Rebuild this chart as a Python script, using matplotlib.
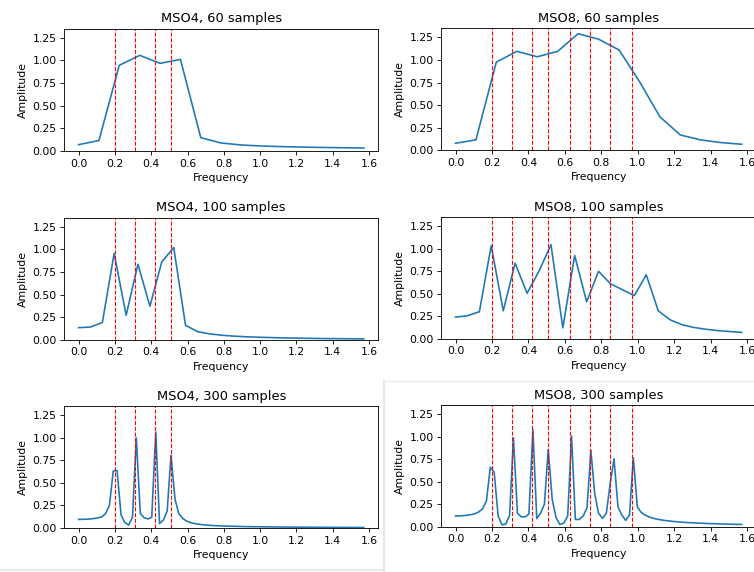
import matplotlib.pyplot as plt
from matplotlib.lines import Line2D

# frequency grids (N/4 points between 0 and pi/2)
freq15 = [0.000, 0.112, 0.224, 0.337, 0.449, 0.561, 0.673, 0.785,
          0.898, 1.010, 1.122, 1.234, 1.346, 1.459, 1.571]
freq25 = [0.000, 0.065, 0.131, 0.196, 0.262, 0.327, 0.393, 0.458, 0.524,
          0.589, 0.654, 0.720, 0.785, 0.851, 0.916, 0.982, 1.047, 1.113,
          1.178, 1.244, 1.309, 1.374, 1.440, 1.505, 1.571]
freq75 = [0.000, 0.021, 0.042, 0.064, 0.085, 0.106, 0.127, 0.149, 0.170, 0.191,
          0.212, 0.234, 0.255, 0.276, 0.297, 0.318, 0.340, 0.361, 0.382, 0.403,
          0.425, 0.446, 0.467, 0.488, 0.509, 0.531, 0.552, 0.573, 0.594, 0.616,
          0.637, 0.658, 0.679, 0.701, 0.722, 0.743, 0.764, 0.785, 0.807, 0.828,
          0.849, 0.870, 0.892, 0.913, 0.934, 0.955, 0.976, 0.998, 1.019, 1.040,
          1.061, 1.083, 1.104, 1.125, 1.146, 1.168, 1.189, 1.210, 1.231, 1.252,
          1.274, 1.295, 1.316, 1.337, 1.359, 1.380, 1.401, 1.422, 1.443, 1.465,
          1.486, 1.507, 1.528, 1.550, 1.571]

# MSO oscillator frequencies (red dashed lines)
alphas4 = [0.2, 0.311, 0.42, 0.51]
alphas8 = [0.2, 0.311, 0.42, 0.51, 0.63, 0.74, 0.85, 0.97]

# amplitudes
mso4_60 = [0.07, 0.115, 0.945, 1.055, 0.967, 1.01, 0.147, 0.088,
           0.066, 0.055, 0.048, 0.043, 0.039, 0.036, 0.033]
mso8_60 = [0.078, 0.115, 0.976, 1.095, 1.035, 1.095, 1.29, 1.23,
           1.11, 0.76, 0.37, 0.17, 0.115, 0.085, 0.067]

mso4_100 = [0.133, 0.14, 0.19, 0.955, 0.27, 0.835, 0.37, 0.86, 1.02,
            0.16, 0.09, 0.065, 0.05, 0.04, 0.033, 0.028, 0.024, 0.021,
            0.018, 0.016, 0.014, 0.012, 0.011, 0.010, 0.009]
mso8_100 = [0.24, 0.255, 0.30, 1.035, 0.31, 0.84, 0.505, 0.75, 1.045,
            0.12, 0.925, 0.41, 0.75, 0.61, 0.545, 0.48, 0.71, 0.31,
            0.21, 0.155, 0.125, 0.105, 0.09, 0.08, 0.07]

mso4_300 = [0.095, 0.096, 0.097, 0.100, 0.105, 0.112, 0.122, 0.16, 0.25, 0.63,
            0.637, 0.144, 0.06, 0.033, 0.12, 0.997, 0.16, 0.114, 0.10, 0.118,
            1.063, 0.05, 0.088, 0.187, 0.806, 0.32, 0.16, 0.107, 0.077, 0.06,
            0.05, 0.043, 0.038, 0.033, 0.030, 0.027, 0.025, 0.023, 0.021, 0.020,
            0.019, 0.018, 0.017, 0.016, 0.015, 0.0145, 0.014, 0.0135, 0.013, 0.0125,
            0.012, 0.0115, 0.011, 0.0105, 0.010, 0.0098, 0.0095, 0.0092, 0.009, 0.0087,
            0.0085, 0.0082, 0.008, 0.0078, 0.0076, 0.0074, 0.0072, 0.007, 0.0068, 0.0066,
            0.0064, 0.0062, 0.006, 0.0058, 0.0056]
mso8_300 = [0.12, 0.12, 0.123, 0.127, 0.134, 0.145, 0.163, 0.20, 0.29, 0.66,
            0.61, 0.12, 0.02, 0.03, 0.13, 0.99, 0.15, 0.11, 0.11, 0.14,
            1.08, 0.09, 0.15, 0.25, 0.86, 0.30, 0.10, 0.025, 0.04, 0.12,
            1.01, 0.08, 0.08, 0.12, 0.21, 0.85, 0.37, 0.15, 0.093, 0.15,
            0.48, 0.755, 0.22, 0.13, 0.07, 0.13, 0.765, 0.22, 0.16, 0.13,
            0.11, 0.095, 0.085, 0.077, 0.07, 0.065, 0.06, 0.056, 0.052, 0.049,
            0.046, 0.044, 0.042, 0.040, 0.038, 0.036, 0.034, 0.033, 0.031, 0.030,
            0.029, 0.028, 0.027, 0.026, 0.025]

panels = [
    ("MSO4, 60 samples", freq15, mso4_60, alphas4),
    ("MSO8, 60 samples", freq15, mso8_60, alphas8),
    ("MSO4, 100 samples", freq25, mso4_100, alphas4),
    ("MSO8, 100 samples", freq25, mso8_100, alphas8),
    ("MSO4, 300 samples", freq75, mso4_300, alphas4),
    ("MSO8, 300 samples", freq75, mso8_300, alphas8),
]

# axes boxes in pixels: left, top, right, bottom
boxes = [
    (64.3, 28.6, 378.1, 151.0), (441.2, 28.3, 756.0, 150.3),
    (64.3, 217.7, 378.1, 339.7), (441.2, 217.3, 756.0, 338.7),
    (64.3, 406.0, 378.1, 528.0), (441.2, 405.3, 756.0, 526.7),
]

W, H = 754, 572
fig = plt.figure(figsize=(9.6667, 7.3334), dpi=78)

for (title, f, amp, alphas), (l, t, r, b) in zip(panels, boxes):
    ax = fig.add_axes([l / W, 1 - b / H, (r - l) / W, (b - t) / H])
    ax.plot(f, amp)
    for a in alphas:
        ax.axvline(a, color='r', linestyle='--', linewidth=1)
    ax.set_ylim(0, 1.35)
    ax.set_yticks([0, 0.25, 0.5, 0.75, 1.0, 1.25])
    ax.set_xticks([0, 0.2, 0.4, 0.6, 0.8, 1.0, 1.2, 1.4, 1.6])
    ax.set_title(title)
    ax.set_xlabel("Frequency")
    ax.set_ylabel("Amplitude")

# faint borders left over from the screenshot collage
fig.add_artist(Line2D([384 / W, 384 / W], [0, 1 - 380 / H], color='#e4e4e4', lw=1.5))
fig.add_artist(Line2D([384 / W, 1], [1 - 381 / H, 1 - 381 / H], color='#ececec', lw=1.2))
fig.add_artist(Line2D([0, 384 / W], [1 - 570 / H, 1 - 570 / H], color='#e4e4e4', lw=1.5))

fig.savefig("out.png", dpi=78)
